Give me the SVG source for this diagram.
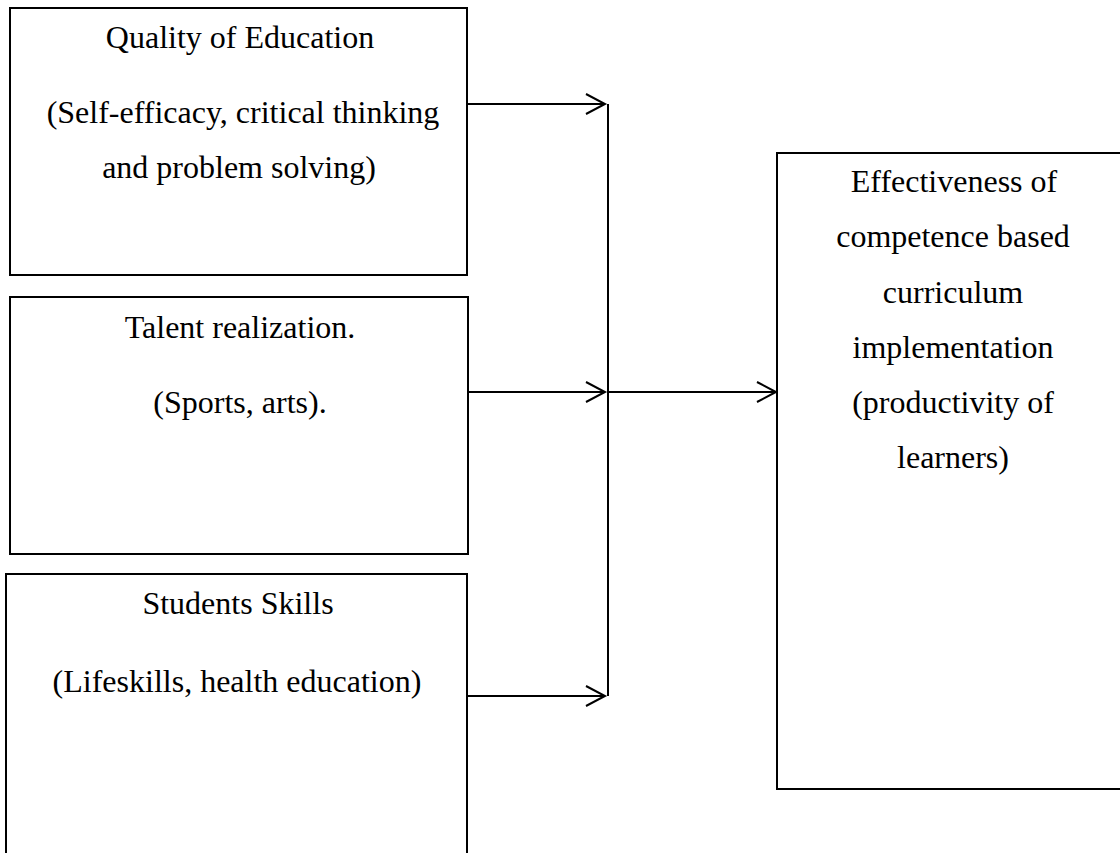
<svg xmlns="http://www.w3.org/2000/svg" width="1120" height="853" viewBox="0 0 1120 853">
<style>
.box{fill:#fff;stroke:#000;stroke-width:2}
.t{font-family:"Liberation Serif","Times New Roman",serif;font-size:32px;fill:#000;text-anchor:middle}
.ln{stroke:#000;stroke-width:2;fill:none}
</style>
<defs>
<marker id="arr" markerUnits="userSpaceOnUse" markerWidth="24" markerHeight="24" refX="20" refY="12" orient="auto" viewBox="0 0 24 24">
<path d="M1,2 L20,12 L1,22" fill="none" stroke="#000" stroke-width="2"/>
</marker>
</defs>
<rect width="1120" height="853" fill="#fff"/>
<g id="quality">
<rect class="box" x="10" y="8" width="457" height="267"/>
<text class="t" x="240" y="48">Quality of Education</text>
<text class="t" x="243" y="123">(Self-efficacy, critical thinking</text>
<text class="t" x="239" y="178">and problem solving)</text>
</g>
<g id="talent">
<rect class="box" x="10" y="297" width="458" height="257"/>
<text class="t" x="240" y="338">Talent realization.</text>
<text class="t" x="240" y="413">(Sports, arts).</text>
</g>
<g id="skills">
<rect class="box" x="6" y="574" width="461" height="300"/>
<text class="t" x="238" y="614">Students Skills</text>
<text class="t" x="237" y="692">(Lifeskills, health education)</text>
</g>
<g id="effectiveness">
<rect class="box" x="777" y="153" width="353" height="636"/>
<text class="t" x="954" y="192">Effectiveness of</text>
<text class="t" x="953" y="247">competence based</text>
<text class="t" x="953" y="303">curriculum</text>
<text class="t" x="953" y="358">implementation</text>
<text class="t" x="953" y="413">(productivity of</text>
<text class="t" x="953" y="468">learners)</text>
</g>
<g id="connectors">
<line class="ln" x1="608" y1="104" x2="608" y2="696"/>
<line class="ln" x1="467" y1="104" x2="605" y2="104" marker-end="url(#arr)"/>
<line class="ln" x1="468" y1="392" x2="605" y2="392" marker-end="url(#arr)"/>
<line class="ln" x1="467" y1="696" x2="605" y2="696" marker-end="url(#arr)"/>
<line class="ln" x1="608" y1="392" x2="776" y2="392" marker-end="url(#arr)"/>
</g>
</svg>
